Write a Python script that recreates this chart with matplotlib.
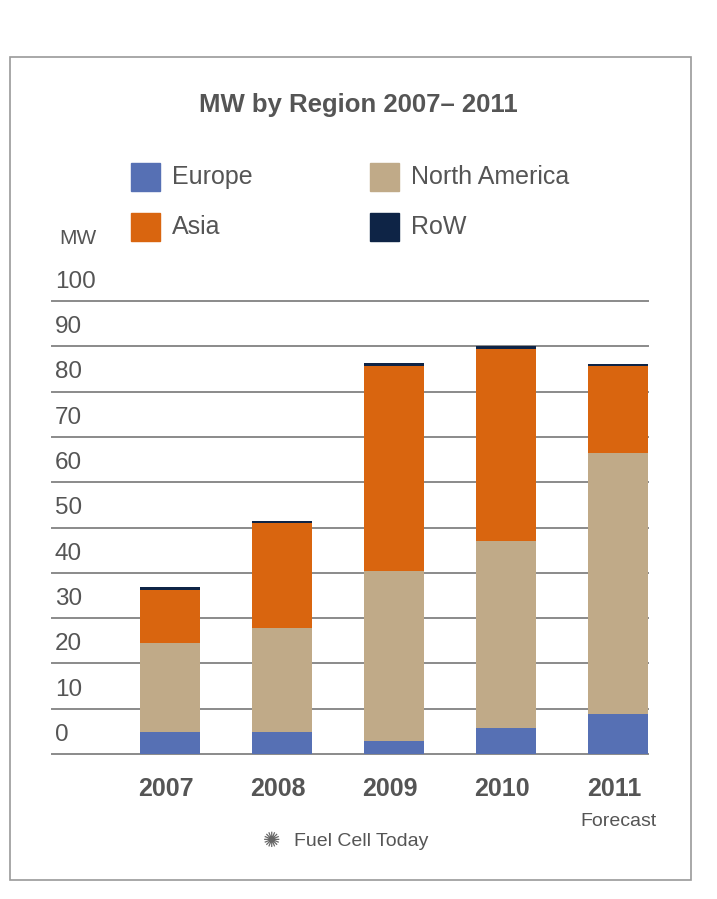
import numpy as np
import matplotlib.pyplot as plt
from matplotlib.patches import Rectangle

plt.rcParams['font.family'] = ['Liberation Sans Narrow', 'Liberation Sans', 'DejaVu Sans']

# data (MW)
years = ["2007", "2008", "2009", "2010", "2011"]
europe = [4.8, 4.9, 2.9, 5.7, 8.8]
north_america = [19.6, 23.0, 37.4, 41.3, 57.7]
asia = [11.9, 23.1, 45.3, 42.3, 19.1]
row = [0.6, 0.4, 0.8, 0.7, 0.6]
yticks = [0, 10, 20, 30, 40, 50, 60, 70, 80, 90, 100]

colors = {"Europe": "#5670b4", "North America": "#c0aa88",
          "Asia": "#d9650f", "RoW": "#0e2446"}
text_col = "#555555"

fig = plt.figure(figsize=(7.17, 8.99), dpi=100)
ax = fig.add_axes([52 / 717, 1 - 754 / 899, (648 - 52) / 717, (754 - 301) / 899])

x = np.arange(len(years))
w = 0.536
bottom = np.zeros(len(years))
for name, vals in [("Europe", europe), ("North America", north_america),
                   ("Asia", asia), ("RoW", row)]:
    ax.bar(x, vals, w, bottom=bottom, color=colors[name], zorder=3)
    bottom += np.array(vals)

# gridlines with labels sitting above them
for t in yticks:
    ax.axhline(t, color="#8a8a8a", lw=1.4, zorder=1, clip_on=False)
    ax.text(-1.03, t + 1.8, str(t), ha="left", va="bottom", fontsize=17.5,
            color=text_col)

ax.set_xlim(-1.054, 4.268)
ax.set_ylim(0, 100)
ax.axis("off")

# year labels
for i, yr in enumerate(years):
    fig.text((166 + 112 * i) / 717, 1 - 789 / 899, yr, ha="center", va="center",
             fontsize=18, fontweight="bold", color=text_col)
fig.text(619 / 717, 1 - 821 / 899, "Forecast", ha="center", va="center",
         fontsize=14, color=text_col)

# title
fig.text(358 / 717, 1 - 105 / 899, "MW by Region 2007\u2013 2011", ha="center",
         va="center", fontsize=18.5, fontweight="bold", color=text_col)

# legend
legend_items = [("Europe", 131, 177), ("North America", 370, 177),
                ("Asia", 131, 227), ("RoW", 370, 227)]
for name, px, py in legend_items:
    fig.patches.append(Rectangle((px / 717, 1 - (py + 14) / 899), 29 / 717, 28 / 899,
                                 transform=fig.transFigure, color=colors[name]))
    fig.text((px + 41) / 717, 1 - py / 899, name, ha="left", va="center",
             fontsize=18, color=text_col)

fig.text(59 / 717, 1 - 239 / 899, "MW", ha="left", va="center", fontsize=15,
         color=text_col)

# source
fig.text(272 / 717, 1 - 841 / 899, "\u273a", ha="center", va="center",
         fontsize=15, color="#666666", family="DejaVu Sans")
fig.text(294 / 717, 1 - 841 / 899, "Fuel Cell Today", ha="left", va="center",
         fontsize=14, color=text_col)

# outer frame
fig.patches.append(Rectangle((10 / 717, 1 - 880 / 899), 681 / 717, 823 / 899,
                             transform=fig.transFigure, fill=False,
                             edgecolor="#9a9a9a", lw=1.2))

fig.savefig("out.png", dpi=100)
